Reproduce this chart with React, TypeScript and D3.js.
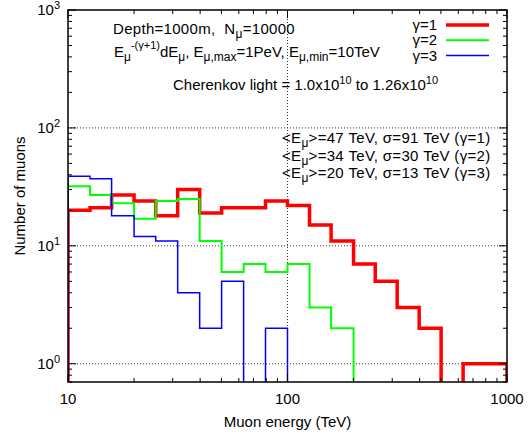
import * as d3 from 'd3';
import React from 'react';

// bin edges in TeV (10 bins per decade)
const binEdges = [10, 12.6, 15.8, 20, 25.1, 31.6, 39.8, 50.1, 63.1, 79.4, 100, 126, 158, 200, 251, 316, 398, 501, 631, 794, 1000];

// muon counts per bin
const gamma1 = [20, 21, 27, 24, 18, 30, 19, 21, 21, 24, 22, 15, 11, 7, 5, 3, 2, 0, 1, 1];
const gamma2 = [32, 27, 23, 17, 24, 25, 11, 6, 7, 6, 7, 3, 2, 0, 0, 0, 0, 0, 0, 0];
const gamma3 = [39, 37, 18, 12, 11, 4, 2, 5, 0, 2, 0, 0, 0, 0, 0, 0, 0, 0, 0, 0];

const seriesNames = ['γ=1', 'γ=2', 'γ=3'];
const seriesColors = ['#ff0000', '#00ff00', '#0000ff'];
const seriesWidths = [3.5, 2, 1.5];

const xTickValues = [10, 100, 1000];
const yTickValues = [1, 10, 100, 1000];
const yTickExp = ['0', '1', '2', '3'];

const statsLines = [
  { mean: '47', sigma: '91', g: '1' },
  { mean: '34', sigma: '30', g: '2' },
  { mean: '20', sigma: '13', g: '3' },
];

const W = 531, H = 434;
const margin = { top: 10, right: 24, bottom: 52, left: 68 };
const font = '"Liberation Sans", Arial, Helvetica, sans-serif';

export default function App() {
  const iw = W - margin.left - margin.right;
  const ih = H - margin.top - margin.bottom;

  const x = d3.scaleLog().domain([10, 1000]).range([0, iw]);
  const y = d3.scaleLog().domain([0.7, 1000]).range([ih, 0]);

  const yv = (v: number) => (v > 0 ? y(v) : ih + 20);

  const stepPath = (vals: number[]) => {
    const pts: [number, number][] = [[x(binEdges[0]), ih + 20]];
    vals.forEach((v, i) => {
      pts.push([x(binEdges[i]), yv(v)]);
      pts.push([x(binEdges[i + 1]), yv(v)]);
    });
    pts.push([x(binEdges[binEdges.length - 1]), ih + 20]);
    return d3.line()(pts) || '';
  };

  const series = [gamma1, gamma2, gamma3];

  // minor ticks
  const xMinor: number[] = [];
  [10, 100].forEach(d => { for (let k = 2; k <= 9; k++) xMinor.push(d * k); });
  const yMinor: number[] = [];
  [0.1, 1, 10, 100].forEach(d => {
    for (let k = 2; k <= 9; k++) { const v = d * k; if (v >= 0.7 && v <= 1000) yMinor.push(v); }
  });

  const sub = 11;
  const sub2 = 12;
  const txt = { fontFamily: font, fontSize: 15, fill: '#000' } as const;

  return (
    <svg width={W} height={H} style={{ position: 'absolute', left: 0, top: 0 }}>
      <rect width={W} height={H} fill="#fff" />
      <defs>
        <clipPath id="plotclip">
          <rect x={0} y={0} width={iw} height={ih} />
        </clipPath>
      </defs>
      <g transform={`translate(${margin.left},${margin.top})`}>
        {/* grid */}
        {yTickValues.slice(0, 3).map(v => (
          <line key={'gy' + v} x1={0} x2={iw} y1={y(v)} y2={y(v)} stroke="#333" strokeWidth={1} strokeDasharray="1,2" />
        ))}
        <line x1={x(100)} x2={x(100)} y1={0} y2={ih} stroke="#333" strokeWidth={1} strokeDasharray="1,2" />

        {/* histograms */}
        <g clipPath="url(#plotclip)">
          {series.map((s, i) => (
            <path key={i} d={stepPath(s)} fill="none" stroke={seriesColors[i]} strokeWidth={seriesWidths[i]} strokeLinejoin="miter" />
          ))}
        </g>

        {/* ticks */}
        {xTickValues.map(v => (
          <g key={'xt' + v}>
            <line x1={x(v)} x2={x(v)} y1={ih} y2={ih - 8} stroke="#000" />
            <line x1={x(v)} x2={x(v)} y1={0} y2={8} stroke="#000" />
          </g>
        ))}
        {xMinor.map(v => (
          <g key={'xm' + v}>
            <line x1={x(v)} x2={x(v)} y1={ih} y2={ih - 4} stroke="#000" />
            <line x1={x(v)} x2={x(v)} y1={0} y2={4} stroke="#000" />
          </g>
        ))}
        {yTickValues.map(v => (
          <g key={'yt' + v}>
            <line x1={0} x2={8} y1={y(v)} y2={y(v)} stroke="#000" />
            <line x1={iw} x2={iw - 8} y1={y(v)} y2={y(v)} stroke="#000" />
          </g>
        ))}
        {yMinor.map(v => (
          <g key={'ym' + v}>
            <line x1={0} x2={4} y1={y(v)} y2={y(v)} stroke="#000" />
            <line x1={iw} x2={iw - 4} y1={y(v)} y2={y(v)} stroke="#000" />
          </g>
        ))}

        {/* frame */}
        <rect x={0} y={0} width={iw} height={ih} fill="none" stroke="#000" strokeWidth={1.5} />

        {/* tick labels */}
        {xTickValues.map(v => (
          <text key={'xl' + v} x={x(v)} y={ih + 22} textAnchor="middle" {...txt}>{v}</text>
        ))}
        {yTickValues.map((v, i) => (
          <text key={'yl' + v} x={-8} y={y(v) + 5} textAnchor="end" {...txt}>
            10<tspan fontSize={11} dy={-6}>{yTickExp[i]}</tspan>
          </text>
        ))}

        {/* axis titles */}
        <text x={iw / 2} y={ih + 45} textAnchor="middle" {...txt}>Muon energy (TeV)</text>
        <text transform={`translate(${-43},${ih / 2}) rotate(-90)`} textAnchor="middle" {...txt}>Number of muons</text>

        {/* annotations */}
        <text x={45} y={24} {...txt} letterSpacing={0.3} style={{ whiteSpace: 'pre' }}>
          {'Depth=1000m,  N'}<tspan fontSize={sub2} dy={4}>μ</tspan><tspan dy={-4}>=10000</tspan>
        </text>
        <text x={46} y={47} {...txt}>
          E<tspan fontSize={sub2} dy={4}>μ</tspan><tspan fontSize={sub} dy={-12}>-(γ+1)</tspan>
          <tspan dy={8}>dE</tspan><tspan fontSize={sub2} dy={4}>μ</tspan>
          <tspan dy={-4}>, E</tspan><tspan fontSize={sub2} dy={4}>μ,max</tspan>
          <tspan dy={-4}>=1PeV, E</tspan><tspan fontSize={sub2} dy={4}>μ,min</tspan>
          <tspan dy={-4}>=10TeV</tspan>
        </text>
        <text x={105} y={80} {...txt}>
          Cherenkov light = 1.0x10<tspan fontSize={sub} dy={-6}>10</tspan>
          <tspan dy={6}> to 1.26x10</tspan><tspan fontSize={sub} dy={-6}>10</tspan>
        </text>

        {/* legend */}
        {seriesNames.map((n, i) => (
          <g key={'lg' + i} transform={`translate(0,${15 + i * 15.3})`}>
            <text x={369} y={5} textAnchor="end" {...txt}>{n}</text>
            <line x1={378} x2={421} y1={0} y2={0} stroke={seriesColors[i]} strokeWidth={seriesWidths[i]} />
          </g>
        ))}

        {/* stats */}
        {statsLines.map((s, i) => (
          <text key={'st' + i} x={214} y={133 + i * 17.5} {...txt} letterSpacing={0.3}>
            {'<E'}<tspan fontSize={sub2} dy={4}>μ</tspan>
            <tspan dy={-4}>{`>=${s.mean} TeV, σ=${s.sigma} TeV (γ=${s.g})`}</tspan>
          </text>
        ))}
      </g>
    </svg>
  );
}
